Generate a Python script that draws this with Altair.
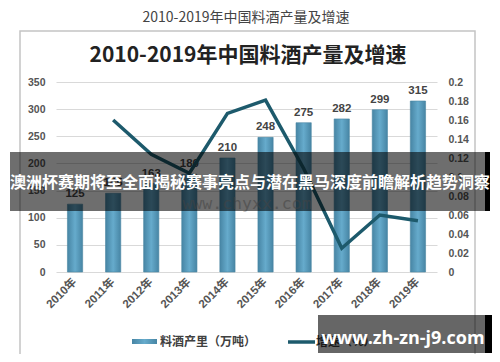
import altair as alt
import pandas as pd

# ---------------- data ----------------
years = ["2010年", "2011年", "2012年", "2013年", "2014年",
         "2015年", "2016年", "2017年", "2018年", "2019年"]
production = [125, 145, 163, 180, 210, 248, 275, 282, 299, 315]
growth_years = years[1:]
growth = [0.160, 0.124, 0.104, 0.167, 0.181, 0.109, 0.025, 0.060, 0.054]

left_ticks = [0, 50, 100, 150, 200, 250, 300, 350]
right_ticks = [0, 0.02, 0.04, 0.06, 0.08, 0.1, 0.12, 0.14, 0.16, 0.18, 0.2]

page_title = "2010-2019年中国料酒产量及增速"
inner_title = "2010-2019年中国料酒产量及增速"
legend_bar = "料酒产里（万吨）"
legend_line = "增速（%）"
banner_text = "澳洲杯赛期将至全面揭秘赛事亮点与潜在黑马深度前瞻解析趋势洞察"
faint_mark = "www.chyxx.com"
corner_mark = "www.zh-zn-j9.com"

prod_df = pd.DataFrame({"year": years, "production": production})
growth_df = pd.DataFrame({"year": growth_years, "growth": growth})
one = pd.DataFrame({"k": [0]})

FONT = "Liberation Sans, Noto Sans CJK SC"
CJK = "Noto Sans CJK SC"
BAR_GRAD = alt.Gradient(
    gradient="linear",
    stops=[alt.GradientStop(color="#4785a4", offset=0),
           alt.GradientStop(color="#66abcc", offset=0.5),
           alt.GradientStop(color="#4785a4", offset=1)],
    x1=0, x2=1, y1=0, y2=0,
)
LINE_COLOR = "#1d5a6c"

x_axis = alt.Axis(labelAngle=-45, labelAlign="right", labelBaseline="middle",
                  labelPadding=8, domain=False, ticks=False, labelOverlap=False,
                  labelFont=FONT, labelFontSize=11.5, labelFontWeight="bold",
                  labelColor="#555555")
x_scale = alt.Scale(paddingInner=0.6, paddingOuter=0.3)

left_axis = alt.Axis(values=left_ticks, grid=True, gridColor="#d9d9d9",
                     domain=False, ticks=False, labelPadding=11, labelOverlap=False,
                     labelFont=FONT, labelFontSize=10.5, labelFontWeight="bold",
                     labelColor="#555555")
left_scale = alt.Scale(domain=[0, 350], nice=False)

bars = alt.Chart(prod_df).mark_bar(color=BAR_GRAD, stroke="#4a86a3", strokeWidth=0.6).encode(
    x=alt.X("year:N", sort=years, title=None, scale=x_scale, axis=x_axis),
    y=alt.Y("production:Q", title=None, scale=left_scale, axis=left_axis),
)
bar_labels = alt.Chart(prod_df).mark_text(
    baseline="bottom", dy=-5, font=FONT, fontSize=11.5, fontWeight="bold", color="#444444"
).encode(
    x=alt.X("year:N", sort=years, title=None, scale=x_scale, axis=x_axis),
    y=alt.Y("production:Q", title=None, scale=left_scale, axis=left_axis),
    text="production:Q",
)

left = alt.layer(bars, bar_labels)

line = alt.Chart(growth_df).mark_line(color=LINE_COLOR, strokeWidth=3.5).encode(
    x=alt.X("year:N", sort=years, title=None, scale=x_scale, axis=x_axis),
    y=alt.Y("growth:Q", title=None,
            scale=alt.Scale(domain=[0, 0.2], nice=False),
            axis=alt.Axis(orient="right", values=right_ticks, format="~g", grid=False,
                          domain=False, ticks=False, labelPadding=11, labelOverlap=False,
                          labelFont=FONT, labelFontSize=10.5, labelFontWeight="bold",
                          labelColor="#555555")),
)


def txt(x, y, s, **kw):
    return alt.Chart(one).mark_text(text=s, **kw).encode(x=alt.value(x), y=alt.value(y))


def box(x1, x2, y1, y2, **kw):
    return alt.Chart(one).mark_rect(**kw).encode(
        x=alt.value(x1), x2=alt.value(x2), y=alt.value(y1), y2=alt.value(y2))


overlays = [
    txt(190, -64, page_title, font=CJK, fontSize=14, color="#444444", align="center", baseline="middle"),
    box(-36, 419, -51, 275, fill="transparent", stroke="#c4c4c4", strokeWidth=1.5),
    txt(192, -26, inner_title, font=CJK, fontSize=21, fontWeight="bold", color="#222222",
        align="center", baseline="middle"),
    # legend
    box(76, 101, 257, 262, color=BAR_GRAD),
    txt(104, 260, legend_bar, font=CJK, fontSize=12, fontWeight="bold", color="#404040",
        align="left", baseline="middle"),
    alt.Chart(one).mark_rule(color=LINE_COLOR, strokeWidth=3.5).encode(
        x=alt.value(232), x2=alt.value(259), y=alt.value(260)),
    txt(260, 260, legend_line, font=CJK, fontSize=12, fontWeight="bold", color="#404040",
        align="left", baseline="middle"),
    # faint watermark
    txt(191, 122, faint_mark, font="DejaVu Sans Mono", fontSize=16.5, color="#9a9a9a",
        opacity=0.55, align="center", baseline="middle"),
    # banner
    box(-46, 429, 70, 129, color="#000000", opacity=0.57),
    box(429, 434, 70, 129, color="#000000"),
    txt(194, 101, banner_text, font=CJK, fontSize=16, fontWeight="bold", color="#ffffff",
        align="center", baseline="middle"),
    # corner watermark box
    box(262, 429, 233, 271, color="#000000", opacity=0.6),
    box(429, 436, 233, 271, color="#000000"),
    txt(347, 257, corner_mark, font="Open Sans", fontSize=18, fontWeight="bold", color="#ffffff",
        align="center", baseline="middle"),
]

chart = alt.layer(left, line, *overlays).resolve_scale(y="independent").properties(
    width=381, height=190,
    padding={"left": 48, "top": 74, "right": 55, "bottom": 82},
    autosize=alt.AutoSizeParams(type="none"),
).configure_view(stroke=None)

chart.save("out.html", embed_options={"renderer": "svg", "actions": False})
